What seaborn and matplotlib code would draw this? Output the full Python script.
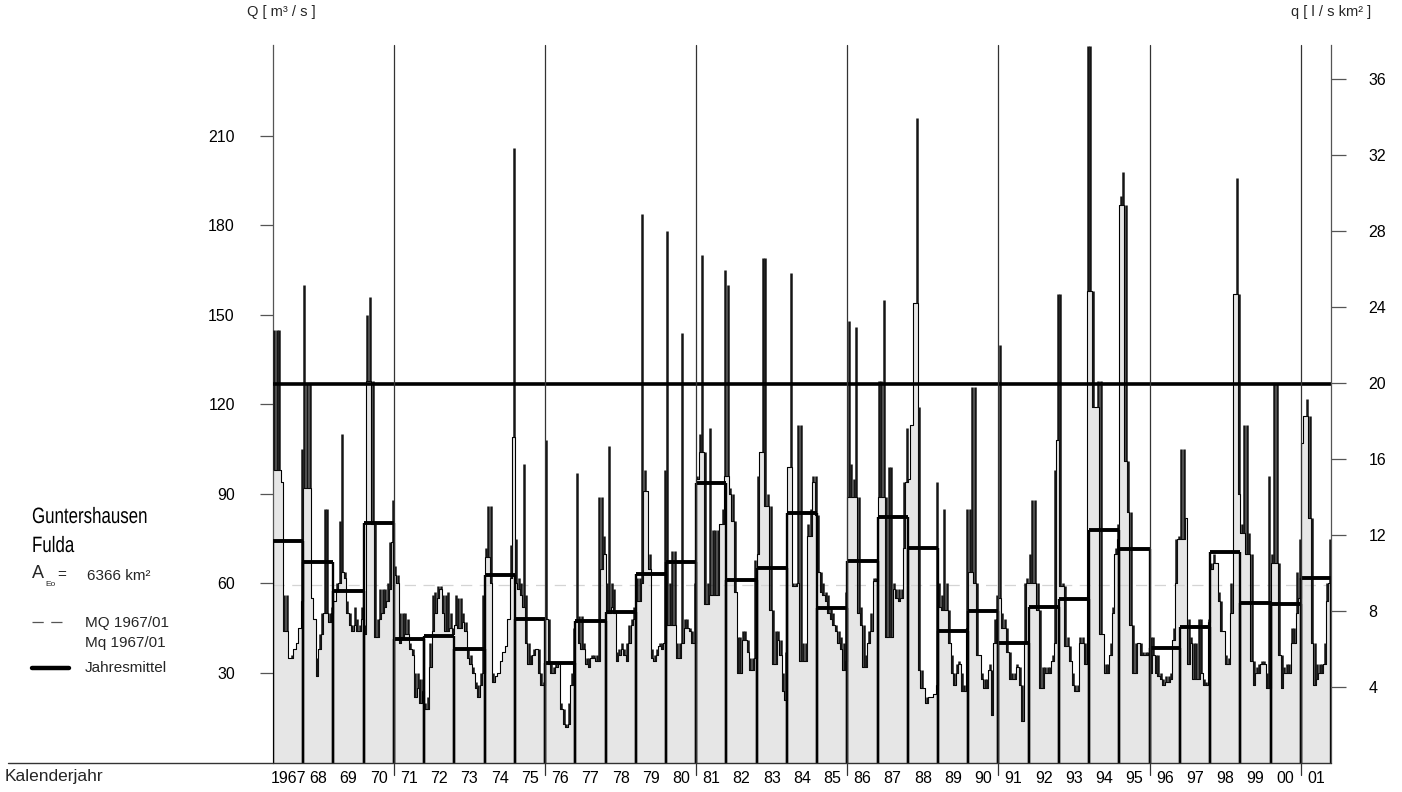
import numpy as np
import matplotlib
matplotlib.use("Agg")
import matplotlib.pyplot as plt
from matplotlib.lines import Line2D
from matplotlib.textpath import TextPath
from matplotlib.patches import PathPatch
from matplotlib.font_manager import FontProperties
from matplotlib.transforms import Affine2D, IdentityTransform
import seaborn as sns

# ---------------------------------------------------------------- data
years = list(range(1967, 2002))
year_labels = ["1967"] + [f"{y % 100:02d}" for y in years[1:]]

# annual mean discharge (Jahresmittel), m3/s
annual_mean = [74.3, 67.2, 57.5, 80.3, 41.4, 42.4, 38.0, 62.9, 48.1, 33.4,
               47.4, 50.5, 63.2, 67.2, 93.7, 61.2, 65.2, 83.6, 51.8, 67.5,
               82.3, 71.9, 44.1, 50.8, 40.1, 52.1, 54.8, 77.9, 71.6, 38.4,
               45.4, 70.5, 53.5, 53.1, 61.9]

# monthly base discharge (grey steps), one row per year, m3/s
monthly_low = [
    98, 98, 98, 94, 44, 44, 35, 35, 38, 40, 45, 54,        # 1967
    92, 92, 92, 55, 48, 29, 38, 43, 50, 50, 47, 50,        # 1968
    54, 58, 60, 64, 62, 50, 46, 44, 46, 44, 44, 48,        # 1969
    43, 128, 128, 80, 42, 42, 48, 50, 52, 54, 58, 74,      # 1970
    63, 60, 40, 42, 43, 43, 38, 36, 22, 25, 20, 24,        # 1971
    18, 18, 32, 44, 50, 55, 58, 50, 44, 44, 45, 43,        # 1972
    46, 45, 45, 47, 44, 35, 33, 30, 25, 22, 26, 30,        # 1973
    69, 69, 60, 27, 29, 30, 34, 37, 39, 48, 62, 109,       # 1974
    60, 58, 56, 52, 40, 33, 33, 36, 38, 30, 26, 26,        # 1975
    48, 33, 30, 30, 32, 33, 18, 13, 12, 13, 26, 33,        # 1976
    47, 40, 38, 38, 33, 32, 35, 35, 34, 34, 65, 70,        # 1977
    50, 50, 52, 50, 34, 36, 38, 36, 34, 40, 46, 48,        # 1978
    54, 54, 60, 91, 91, 65, 35, 34, 36, 39, 38, 40,        # 1979
    46, 46, 46, 46, 35, 35, 40, 45, 45, 44, 40, 40,        # 1980
    95, 104, 104, 53, 53, 56, 56, 56, 56, 80, 80, 96,      # 1981
    96, 90, 81, 57, 30, 30, 41, 41, 37, 31, 31, 35,        # 1982
    70, 104, 104, 86, 86, 51, 33, 33, 41, 36, 24, 21,      # 1983
    99, 99, 59, 59, 60, 34, 34, 34, 76, 76, 94, 83,        # 1984
    64, 57, 56, 54, 50, 48, 46, 44, 40, 38, 31, 34,        # 1985
    89, 89, 89, 89, 50, 46, 32, 32, 40, 44, 61, 61,        # 1986
    89, 89, 89, 42, 42, 42, 58, 55, 54, 55, 72, 94,        # 1987
    95, 113, 154, 154, 31, 25, 25, 20, 22, 22, 23, 26,     # 1988
    52, 51, 51, 51, 40, 30, 26, 30, 33, 24, 24, 45,        # 1989
    64, 64, 60, 36, 36, 28, 25, 25, 31, 16, 40, 48,        # 1990
    55, 45, 45, 37, 28, 28, 28, 32, 26, 14, 40, 60,        # 1991
    60, 60, 60, 51, 25, 25, 30, 30, 30, 34, 40, 108,       # 1992
    59, 59, 39, 39, 34, 26, 24, 24, 40, 40, 33, 158,       # 1993
    158, 119, 119, 119, 43, 43, 30, 30, 36, 50, 70, 75,    # 1994
    187, 187, 101, 84, 46, 30, 30, 40, 36, 36, 36, 36,     # 1995
    30, 36, 30, 29, 28, 26, 27, 27, 28, 41, 60, 75,        # 1996
    75, 75, 82, 33, 40, 28, 28, 28, 30, 26, 26, 47,        # 1997
    65, 67, 67, 54, 44, 44, 33, 33, 50, 157, 157, 90,      # 1998
    77, 77, 70, 70, 34, 26, 30, 30, 33, 33, 25, 25,        # 1999
    67, 67, 67, 36, 25, 30, 30, 30, 40, 40, 50, 55,        # 2000
    107, 116, 116, 82, 40, 26, 28, 30, 30, 33, 54, 60,     # 2001
]

# monthly peak discharge (dark spikes), one row per year, m3/s
monthly_high = [
    145, 145, 145, 94, 56, 56, 35, 36, 38, 40, 45, 105,    # 1967
    160, 127, 127, 55, 48, 35, 43, 50, 85, 85, 50, 52,     # 1968
    54, 60, 81, 110, 64, 54, 50, 46, 52, 48, 46, 52,       # 1969
    46, 150, 156, 128, 80, 48, 58, 58, 58, 60, 74, 88,     # 1970
    66, 63, 50, 50, 50, 48, 40, 38, 30, 30, 28, 28,        # 1971
    20, 22, 40, 56, 57, 59, 59, 56, 56, 57, 50, 45,        # 1972
    56, 55, 55, 50, 47, 38, 36, 32, 27, 26, 30, 56,        # 1973
    72, 86, 86, 30, 29, 30, 34, 37, 39, 48, 73, 206,       # 1974
    75, 62, 60, 100, 56, 40, 36, 38, 38, 38, 30, 27,       # 1975
    108, 48, 33, 32, 33, 33, 20, 18, 13, 20, 30, 45,       # 1976
    97, 49, 49, 40, 35, 35, 36, 36, 36, 89, 89, 76,        # 1977
    60, 106, 60, 58, 37, 38, 40, 38, 40, 46, 48, 52,       # 1978
    62, 62, 184, 98, 91, 70, 38, 36, 38, 40, 40, 98,       # 1979
    178, 60, 71, 71, 40, 40, 144, 48, 48, 45, 44, 60,      # 1980
    96, 110, 170, 104, 60, 112, 78, 78, 78, 80, 85, 165,   # 1981
    160, 92, 90, 81, 42, 42, 44, 44, 41, 35, 35, 68,       # 1982
    96, 104, 169, 169, 90, 86, 51, 44, 44, 41, 30, 37,     # 1983
    99, 164, 60, 60, 113, 113, 40, 40, 80, 85, 96, 96,     # 1984
    83, 64, 60, 57, 56, 52, 50, 46, 44, 42, 40, 57,        # 1985
    148, 100, 95, 146, 89, 52, 46, 36, 44, 50, 62, 62,     # 1986
    128, 128, 155, 89, 99, 99, 60, 58, 58, 58, 94, 112,    # 1987
    95, 113, 154, 216, 119, 31, 25, 22, 22, 22, 23, 94,    # 1988
    60, 56, 85, 60, 51, 36, 30, 33, 34, 30, 26, 85,        # 1989
    85, 126, 126, 60, 36, 30, 28, 28, 33, 31, 48, 56,      # 1990
    140, 50, 48, 45, 37, 30, 30, 33, 32, 26, 60, 62,       # 1991
    70, 88, 88, 60, 51, 32, 32, 32, 32, 36, 98, 157,       # 1992
    157, 60, 59, 42, 39, 30, 26, 26, 42, 42, 40, 240,      # 1993
    240, 158, 119, 128, 128, 43, 33, 33, 40, 52, 72, 80,   # 1994
    190, 198, 187, 101, 84, 46, 40, 40, 40, 37, 37, 37,    # 1995
    42, 42, 36, 36, 30, 28, 29, 29, 30, 45, 75, 76,        # 1996
    105, 105, 82, 48, 42, 40, 40, 48, 48, 28, 27, 48,      # 1997
    67, 70, 67, 57, 54, 44, 36, 35, 60, 157, 196, 157,     # 1998
    80, 113, 113, 77, 70, 34, 32, 33, 34, 34, 30, 96,      # 1999
    70, 127, 127, 67, 36, 32, 33, 33, 45, 45, 64, 75,      # 2000
    107, 116, 122, 116, 82, 40, 33, 33, 33, 40, 60, 75,    # 2001
]

mq_long_term = 59.5          # MQ 1967/01, m3/s
upper_level = 127            # heavy reference line, m3/s
catchment_km2 = 6366         # A_Eo
q_ticks = [30, 60, 90, 120, 150, 180, 210]
spec_ticks = [4, 8, 12, 16, 20, 24, 28, 32, 36]
group_starts = [1971, 1976, 1981, 1986, 1991, 1996, 2001]

# ---------------------------------------------------------------- style
sns.set_theme(style="white")
plt.rcParams["font.family"] = ["Liberation Sans", "DejaVu Sans"]

W, H = 1402, 792
DPI = 100
def fx(px):
    return px / W
def fy(py):
    return 1 - py / H

fig = plt.figure(figsize=(W / DPI, H / DPI), dpi=DPI)
fig.patch.set_facecolor("white")
ax = fig.add_axes([fx(273), fy(762.5), fx(1331) - fx(273), fy(45) - fy(762.5)])
ax.set_facecolor("white")
Q_TOP = 240.5
ax.set_xlim(years[0], years[-1] + 1)
ax.set_ylim(0, Q_TOP)

low = np.array(monthly_low, dtype=float)
high = np.array(monthly_high, dtype=float)
n = len(low)
edges = years[0] + np.arange(n + 1) / 12.0
centres = years[0] + (np.arange(n) + 0.5) / 12.0
low_ext = np.append(low, low[-1])

# grey monthly steps
ax.fill_between(edges, low_ext, step="post", color="#e6e6e6", linewidth=0, zorder=1)
ax.axhline(mq_long_term, color="#d4d4d4", lw=0.9, ls=(0, (9, 6)), zorder=1.5)
sns.lineplot(x=edges, y=low_ext, drawstyle="steps-post", color="black",
             linewidth=0.8, ax=ax, zorder=2)

# monthly peaks
mask = high > low + 0.5
ax.vlines(centres[mask], low[mask], high[mask], color="#151515", lw=1.8, zorder=3)

# annual means as boxes
yr = np.array(years, dtype=float)
am = np.array(annual_mean)
ax.vlines(yr, 0, am, color="black", lw=1.7, zorder=4)
ax.vlines(yr + 1, 0, am, color="black", lw=1.7, zorder=4)
ax.hlines(am, yr, yr + 1, color="black", lw=2.8, zorder=5)

ax.axhline(upper_level, color="black", lw=2.6, zorder=5)

# five-year separators
for g in group_starts:
    ax.plot([g, g], [-4.3, Q_TOP], color="#333333", lw=0.9, clip_on=False, zorder=6)

# axes and ticks
for s in ("top", "bottom", "right"):
    ax.spines[s].set_visible(False)
ax.spines["left"].set_color("#555555")
ax.spines["left"].set_linewidth(0.9)
ax.set_yticks(q_ticks)
ax.set_yticklabels([str(v) for v in q_ticks])
ax.tick_params(axis="y", direction="out", length=9.5, width=0.9, color="#555555",
               pad=18, labelsize=11.5, labelcolor="black", left=True)
ax.set_xticks(yr + 0.5)
ax.set_xticklabels(year_labels)
ax.tick_params(axis="x", length=0, pad=6, labelsize=11.5, labelcolor="black")
ax.grid(False)

ax2 = ax.twinx()
ax2.set_ylim(0, Q_TOP * 1000.0 / catchment_km2)
for s in ("top", "bottom", "left"):
    ax2.spines[s].set_visible(False)
ax2.spines["right"].set_color("#555555")
ax2.spines["right"].set_linewidth(0.9)
ax2.set_yticks(spec_ticks)
ax2.set_yticklabels([str(v) for v in spec_ticks])
ax2.tick_params(axis="y", direction="out", length=11, width=0.9, color="#555555",
                pad=16, labelsize=11.5, labelcolor="black", right=True)
ax2.grid(False)

# baseline across the full width
fig.add_artist(Line2D([fx(8), fx(1331)], [fy(762.5), fy(762.5)], color="#333333", lw=1.0))

# axis captions
fig.text(fx(247), fy(12), "Q [ m³ / s ]", fontsize=10.5, va="center", ha="left")
fig.text(fx(1291), fy(12), "q [ l / s km² ]", fontsize=10.5, va="center", ha="left")
fig.text(fx(5), fy(777), "Kalenderjahr", fontsize=12.5, va="center", ha="left")


def condensed_text(x_px, baseline_px, s, size_pt, squeeze=0.76):
    """Draw a horizontally condensed label as a filled text path (pixel coordinates)."""
    path = TextPath((0, 0), s, size=size_pt, prop=FontProperties(family="Liberation Sans"))
    tr = Affine2D().scale(squeeze * DPI / 72.0, DPI / 72.0).translate(x_px, H - baseline_px)
    patch = PathPatch(tr.transform_path(path), facecolor="black", edgecolor="none",
                      transform=IdentityTransform())
    fig.add_artist(patch)


# station block
condensed_text(32, 523, "Guntershausen", 16)
condensed_text(32, 552, "Fulda", 16)
fig.text(fx(32), fy(574), "A", fontsize=13, va="center")
fig.text(fx(45), fy(585), "Eo", fontsize=6, va="center")
fig.text(fx(57), fy(575), "=", fontsize=11, va="center")
fig.text(fx(87), fy(576), f"{catchment_km2} km²", fontsize=11, va="center")

# legend
fig.add_artist(Line2D([fx(32), fx(69)], [fy(622), fy(622)], color="#555555",
                      lw=0.9, dashes=(9, 6)))
fig.text(fx(85), fy(623), "MQ 1967/01", fontsize=11, va="center")
fig.text(fx(85), fy(643), "Mq 1967/01", fontsize=11, va="center")
fig.add_artist(Line2D([fx(32), fx(69)], [fy(667.5), fy(667.5)], color="black", lw=3.2))
fig.text(fx(85), fy(668), "Jahresmittel", fontsize=11, va="center")

fig.savefig("out.png", dpi=DPI, facecolor="white")
